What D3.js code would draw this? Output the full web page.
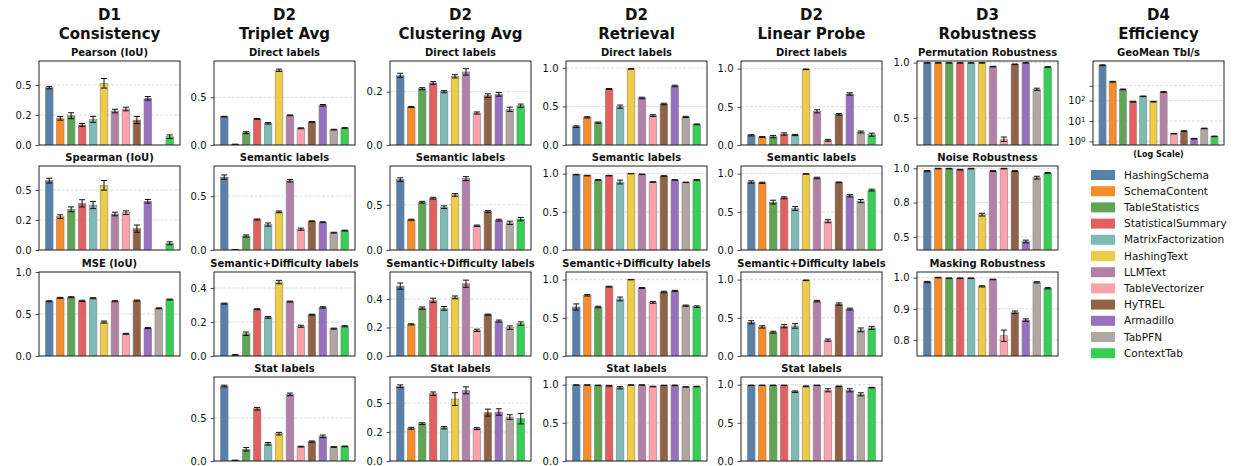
<!DOCTYPE html>
<html>
<head>
<meta charset="utf-8">
<script src="https://cdn.jsdelivr.net/npm/d3@7"></script>
<style>
  body { margin: 0; background: #fff; }
  svg { display: block; }
  text { font-family: "DejaVu Sans", sans-serif; fill: #111; }
</style>
</head>
<body>
<svg id="chart" width="1242" height="466"></svg>
<script>
// ---- Methods and colours ----
const methods = ["HashingSchema", "SchemaContent", "TableStatistics", "StatisticalSummary",
  "MatrixFactorization", "HashingText", "LLMText", "TableVectorizer", "HyTREL",
  "Armadillo", "TabPFN", "ContextTab"];
const methodColors = ["#4e79a7", "#f7861f", "#55a04b", "#e15759", "#76b7b2", "#eec93c",
  "#b07aa1", "#ff9da7", "#8c5a3c", "#9467bd", "#aca29e", "#2bcb4a"];

// ---- D1 Consistency ----
const pearsonIoU     = [0.478, 0.222, 0.244, 0.167, 0.214, 0.514, 0.283, 0.300, 0.208, 0.389, null, 0.069];
const pearsonIoUErr  = [0.010, 0.015, 0.025, 0.012, 0.025, 0.040, 0.015, 0.015, 0.030, 0.015, null, 0.015];
const spearmanIoU    = [0.578, 0.278, 0.339, 0.389, 0.375, 0.539, 0.300, 0.311, 0.178, 0.406, null, 0.056];
const spearmanIoUErr = [0.020, 0.015, 0.020, 0.030, 0.030, 0.040, 0.015, 0.015, 0.030, 0.015, null, 0.012];
const mseIoU         = [0.652, 0.692, 0.700, 0.656, 0.688, 0.404, 0.652, 0.264, 0.660, 0.332, 0.568, 0.672];
const mseIoUErr      = [0.006, 0.006, 0.006, 0.008, 0.006, 0.012, 0.006, 0.006, 0.006, 0.006, 0.006, 0.006];

// ---- D2 Triplet Avg ----
const tripletDirect      = [0.297, 0.007, 0.129, 0.273, 0.227, 0.783, 0.311, 0.175, 0.241, 0.416, 0.161, 0.178];
const tripletDirectErr   = [0.004, 0.002, 0.010, 0.004, 0.008, 0.012, 0.004, 0.005, 0.004, 0.008, 0.004, 0.004];
const tripletSemantic    = [0.677, 0.003, 0.130, 0.283, 0.236, 0.354, 0.643, 0.193, 0.267, 0.258, 0.161, 0.180];
const tripletSemanticErr = [0.020, 0.002, 0.010, 0.005, 0.015, 0.008, 0.012, 0.010, 0.004, 0.004, 0.004, 0.004];
const tripletSemDiff     = [0.308, 0.006, 0.131, 0.275, 0.227, 0.435, 0.320, 0.175, 0.243, 0.286, 0.161, 0.175];
const tripletSemDiffErr  = [0.003, 0.002, 0.010, 0.003, 0.005, 0.010, 0.003, 0.006, 0.003, 0.004, 0.003, 0.003];
const tripletStat        = [0.872, 0.008, 0.136, 0.608, 0.200, 0.318, 0.775, 0.167, 0.225, 0.287, 0.163, 0.170];
const tripletStatErr     = [0.010, 0.002, 0.020, 0.015, 0.015, 0.015, 0.015, 0.005, 0.008, 0.015, 0.004, 0.004];

// ---- D2 Clustering Avg ----
const clusterDirect      = [0.261, 0.1425, 0.211, 0.2325, 0.200, 0.2575, 0.274, 0.120, 0.185, 0.190, 0.134, 0.1475];
const clusterDirectErr   = [0.008, 0.002, 0.004, 0.005, 0.004, 0.006, 0.012, 0.004, 0.007, 0.007, 0.008, 0.006];
const clusterSemantic    = [0.779, 0.335, 0.529, 0.574, 0.474, 0.610, 0.790, 0.268, 0.426, 0.331, 0.301, 0.342];
const clusterSemanticErr = [0.020, 0.006, 0.010, 0.010, 0.015, 0.015, 0.022, 0.008, 0.010, 0.010, 0.018, 0.018];
const clusterSemDiff     = [0.490, 0.222, 0.336, 0.390, 0.334, 0.411, 0.507, 0.180, 0.290, 0.245, 0.199, 0.227];
const clusterSemDiffErr  = [0.022, 0.004, 0.008, 0.015, 0.013, 0.010, 0.025, 0.008, 0.004, 0.007, 0.012, 0.012];
const clusterStat        = [0.644, 0.282, 0.322, 0.580, 0.287, 0.534, 0.609, 0.279, 0.417, 0.422, 0.379, 0.365];
const clusterStatErr     = [0.012, 0.008, 0.008, 0.015, 0.010, 0.055, 0.030, 0.008, 0.030, 0.028, 0.020, 0.045];

// ---- D2 Retrieval ----
const retrievalDirect      = [0.238, 0.359, 0.290, 0.727, 0.498, 0.987, 0.610, 0.381, 0.532, 0.766, 0.364, 0.268];
const retrievalDirectErr   = [0.010, 0.008, 0.008, 0.006, 0.020, 0.003, 0.010, 0.012, 0.010, 0.010, 0.008, 0.005];
const retrievalSemantic    = [0.987, 0.974, 0.917, 0.974, 0.890, 1.000, 0.991, 0.890, 0.969, 0.917, 0.886, 0.917];
const retrievalSemanticErr = [0.003, 0.004, 0.004, 0.004, 0.025, 0.002, 0.003, 0.004, 0.004, 0.003, 0.003, 0.004];
const retrievalSemDiff     = [0.642, 0.795, 0.642, 0.908, 0.747, 1.000, 0.891, 0.703, 0.838, 0.852, 0.659, 0.646];
const retrievalSemDiffErr  = [0.040, 0.010, 0.010, 0.006, 0.025, 0.003, 0.006, 0.012, 0.010, 0.008, 0.008, 0.010];
const retrievalStat        = [0.995, 0.995, 0.990, 0.985, 0.960, 0.995, 0.995, 0.975, 0.990, 0.990, 0.970, 0.975];
const retrievalStatErr     = [0.002, 0.002, 0.003, 0.005, 0.015, 0.003, 0.002, 0.004, 0.002, 0.004, 0.003, 0.004];

// ---- D2 Linear Probe ----
const probeDirect      = [0.127, 0.105, 0.109, 0.144, 0.131, 0.991, 0.441, 0.061, 0.402, 0.668, 0.170, 0.135];
const probeDirectErr   = [0.008, 0.005, 0.015, 0.015, 0.008, 0.004, 0.020, 0.012, 0.010, 0.015, 0.013, 0.020];
const probeSemantic    = [0.890, 0.880, 0.627, 0.684, 0.544, 0.996, 0.943, 0.377, 0.886, 0.711, 0.640, 0.785];
const probeSemanticErr = [0.015, 0.008, 0.025, 0.012, 0.025, 0.003, 0.010, 0.020, 0.005, 0.015, 0.020, 0.012];
const probeSemDiff     = [0.442, 0.381, 0.312, 0.390, 0.394, 0.991, 0.719, 0.208, 0.680, 0.615, 0.342, 0.368];
const probeSemDiffErr  = [0.020, 0.015, 0.012, 0.020, 0.030, 0.004, 0.010, 0.015, 0.015, 0.012, 0.025, 0.020];
const probeStat        = [0.991, 0.991, 0.991, 0.991, 0.908, 0.978, 0.991, 0.926, 0.978, 0.926, 0.873, 0.961];
const probeStatErr     = [0.002, 0.002, 0.003, 0.002, 0.010, 0.006, 0.002, 0.020, 0.004, 0.020, 0.020, 0.004];

// ---- D3 Robustness ----
const permutationRob    = [0.998, 0.998, 0.998, 0.998, 0.998, 0.998, 0.964, 0.307, 0.985, 0.998, 0.759, 0.961];
const permutationRobErr = [0.002, 0.002, 0.002, 0.002, 0.002, 0.002, 0.003, 0.020, 0.003, 0.002, 0.010, 0.003];
const noiseRob          = [0.980, 0.998, 0.998, 0.990, 0.998, 0.662, 0.980, 0.998, 0.980, 0.466, 0.932, 0.966];
const noiseRobErr       = [0.004, 0.002, 0.002, 0.003, 0.002, 0.010, 0.003, 0.002, 0.003, 0.010, 0.010, 0.003];
const maskingRob        = [0.986, 1.000, 0.998, 0.998, 0.998, 0.972, 0.994, 0.814, 0.889, 0.864, 0.985, 0.966];
const maskingRobErr     = [0.002, 0.001, 0.001, 0.001, 0.001, 0.002, 0.001, 0.018, 0.004, 0.004, 0.002, 0.002];

// ---- D4 Efficiency (tables per second, geometric mean) ----
const geoMeanTblPerSec    = [5500, 850, 357, 89, 163, 89, 265, 2.37, 3.19, 1.35, 4.3, 1.75];
const geoMeanTblPerSecErr = [300, 40, 15, 4, 6, 4, 12, 0.08, 0.12, 0.05, 0.15, 0.06];

// ---- Axis tick sets ----
const ticksHalf      = [0, 0.5];
const ticksHalfText  = ["0.0", "0.5"];
const ticksQuarter   = [0, 0.25, 0.5];
const ticksQuarterText = ["0.0", "0.2", "0.5"];
const ticksUnit      = [0, 0.5, 1.0];
const ticksUnitText  = ["0.0", "0.5", "1.0"];
const ticksFifth     = [0, 0.2, 0.4];
const ticksFifthText = ["0.0", "0.2", "0.4"];
const ticksHigh      = [0.5, 1.0];
const ticksHighText  = ["0.5", "1.0"];
const ticksNoise     = [0.5, 0.75, 1.0];
const ticksNoiseText = ["0.5", "0.8", "1.0"];
const ticksMask      = [0.8, 0.9, 1.0];
const ticksMaskText  = ["0.8", "0.9", "1.0"];
const ticksLog       = [1, 10, 100, 540];
const ticksLogExp    = ["0", "1", "2", null];

const columnHeaders = [["D1", "Consistency"], ["D2", "Triplet Avg"], ["D2", "Clustering Avg"],
  ["D2", "Retrieval"], ["D2", "Linear Probe"], ["D3", "Robustness"], ["D4", "Efficiency"]];

// ---- Layout ----
const colLeft  = [39, 214, 390, 566, 741, 917, 1093];
const colWidth = [141, 141, 141, 141, 141, 141, 131];
const rowTop   = [61, 166, 272, 377];
const panelH   = 84;

const panels = [
  { col: 0, row: 0, title: "Pearson (IoU)",  v: pearsonIoU,  e: pearsonIoUErr,  dom: [0, 0.70], t: ticksQuarter, tt: ticksQuarterText },
  { col: 0, row: 1, title: "Spearman (IoU)", v: spearmanIoU, e: spearmanIoUErr, dom: [0, 0.70], t: ticksQuarter, tt: ticksQuarterText },
  { col: 0, row: 2, title: "MSE (IoU)",      v: mseIoU,      e: mseIoUErr,      dom: [0, 1.00], t: ticksUnit, tt: ticksUnitText },

  { col: 1, row: 0, title: "Direct labels",   v: tripletDirect,   e: tripletDirectErr,   dom: [0, 0.88],  t: ticksHalf, tt: ticksHalfText },
  { col: 1, row: 1, title: "Semantic labels", v: tripletSemantic, e: tripletSemanticErr, dom: [0, 0.78],  t: ticksHalf, tt: ticksHalfText },
  { col: 1, row: 2, title: "Semantic+Difficulty labels", v: tripletSemDiff, e: tripletSemDiffErr, dom: [0, 0.494], t: ticksFifth, tt: ticksFifthText },
  { col: 1, row: 3, title: "Stat labels",     v: tripletStat,     e: tripletStatErr,     dom: [0, 0.977], t: ticksHalf, tt: ticksHalfText },

  { col: 2, row: 0, title: "Direct labels",   v: clusterDirect,   e: clusterDirectErr,   dom: [0, 0.315], t: [0, 0.2], tt: ["0.0", "0.2"] },
  { col: 2, row: 1, title: "Semantic labels", v: clusterSemantic, e: clusterSemanticErr, dom: [0, 0.93],  t: ticksHalf, tt: ticksHalfText },
  { col: 2, row: 2, title: "Semantic+Difficulty labels", v: clusterSemDiff, e: clusterSemDiffErr, dom: [0, 0.589], t: ticksFifth, tt: ticksFifthText },
  { col: 2, row: 3, title: "Stat labels",     v: clusterStat,     e: clusterStatErr,     dom: [0, 0.724], t: ticksQuarter, tt: ticksQuarterText },

  { col: 3, row: 0, title: "Direct labels",   v: retrievalDirect,   e: retrievalDirectErr,   dom: [0, 1.09], t: ticksUnit, tt: ticksUnitText },
  { col: 3, row: 1, title: "Semantic labels", v: retrievalSemantic, e: retrievalSemanticErr, dom: [0, 1.10], t: ticksUnit, tt: ticksUnitText },
  { col: 3, row: 2, title: "Semantic+Difficulty labels", v: retrievalSemDiff, e: retrievalSemDiffErr, dom: [0, 1.10], t: ticksUnit, tt: ticksUnitText },
  { col: 3, row: 3, title: "Stat labels",     v: retrievalStat,     e: retrievalStatErr,     dom: [0, 1.10], t: ticksUnit, tt: ticksUnitText },

  { col: 4, row: 0, title: "Direct labels",   v: probeDirect,   e: probeDirectErr,   dom: [0, 1.10], t: ticksUnit, tt: ticksUnitText },
  { col: 4, row: 1, title: "Semantic labels", v: probeSemantic, e: probeSemanticErr, dom: [0, 1.10], t: ticksUnit, tt: ticksUnitText },
  { col: 4, row: 2, title: "Semantic+Difficulty labels", v: probeSemDiff, e: probeSemDiffErr, dom: [0, 1.10], t: ticksUnit, tt: ticksUnitText },
  { col: 4, row: 3, title: "Stat labels",     v: probeStat,     e: probeStatErr,     dom: [0, 1.10], t: ticksUnit, tt: ticksUnitText },

  { col: 5, row: 0, title: "Permutation Robustness", v: permutationRob, e: permutationRobErr, dom: [0.255, 1.015], t: ticksHigh,  tt: ticksHighText },
  { col: 5, row: 1, title: "Noise Robustness",       v: noiseRob,       e: noiseRobErr,       dom: [0.404, 1.017], t: ticksNoise, tt: ticksNoiseText },
  { col: 5, row: 2, title: "Masking Robustness",     v: maskingRob,     e: maskingRobErr,     dom: [0.749, 1.018], t: ticksMask,  tt: ticksMaskText },

  { col: 6, row: 0, title: "GeoMean Tbl/s", v: geoMeanTblPerSec, e: geoMeanTblPerSecErr, dom: [0.66, 8900], log: true, t: ticksLog, tt: ticksLogExp }
];

const svg = d3.select("#chart");
svg.append("rect").attr("width", 1242).attr("height", 466).attr("fill", "#fff");
const defs = svg.append("defs");

// Column headers
columnHeaders.forEach((h, c) => {
  const cx = colLeft[c] + colWidth[c] / 2;
  const g = svg.append("g").attr("font-weight", "bold").attr("font-size", 15).attr("text-anchor", "middle");
  g.append("text").attr("x", cx).attr("y", 19.5).text(h[0]);
  g.append("text").attr("x", cx).attr("y", 38.5).text(h[1]);
});

panels.forEach((p, pi) => {
  const x0 = colLeft[p.col], w = colWidth[p.col];
  const y0 = rowTop[p.row], h = panelH;
  const g = svg.append("g").attr("transform", `translate(${x0},${y0})`);

  const x = d3.scaleLinear().domain([-0.935, methods.length - 1 + 0.935]).range([0, w]);
  const y = (p.log ? d3.scaleLog() : d3.scaleLinear()).domain(p.dom).range([h, 0]);
  const bw = x(0.35) - x(-0.35);

  // dashed horizontal grid
  g.append("g").selectAll("line").data(p.t).join("line")
    .attr("x1", 0).attr("x2", w)
    .attr("y1", d => y(d)).attr("y2", d => y(d))
    .attr("stroke", "#b0b0b0").attr("stroke-opacity", 0.55)
    .attr("stroke-width", 0.8).attr("stroke-dasharray", "3,1.5");

  const clipId = "clip" + pi;
  defs.append("clipPath").attr("id", clipId)
    .append("rect").attr("x", 0).attr("y", 0).attr("width", w).attr("height", h);

  const plot = g.append("g").attr("clip-path", `url(#${clipId})`);
  const rows = p.v.map((v, i) => ({ i, v, e: p.e[i] })).filter(d => d.v !== null);

  plot.selectAll("rect.bar").data(rows).join("rect").attr("class", "bar")
    .attr("x", d => x(d.i) - bw / 2).attr("width", bw)
    .attr("y", d => y(d.v)).attr("height", d => h - y(d.v))
    .attr("fill", d => methodColors[d.i]).attr("fill-opacity", 0.95)
    .attr("stroke", "#8a8a8a").attr("stroke-width", 0.6);

  // error bars
  const eb = plot.selectAll("g.err").data(rows.filter(d => d.e)).join("g").attr("class", "err")
    .attr("stroke", "#111").attr("stroke-width", 1);
  eb.append("line").attr("x1", d => x(d.i)).attr("x2", d => x(d.i))
    .attr("y1", d => y(d.v - d.e)).attr("y2", d => y(d.v + d.e));
  eb.append("line").attr("x1", d => x(d.i) - 3).attr("x2", d => x(d.i) + 3)
    .attr("y1", d => y(d.v - d.e)).attr("y2", d => y(d.v - d.e));
  eb.append("line").attr("x1", d => x(d.i) - 3).attr("x2", d => x(d.i) + 3)
    .attr("y1", d => y(d.v + d.e)).attr("y2", d => y(d.v + d.e));

  // y axis
  const ax = g.append("g").call(d3.axisLeft(y).tickValues(p.t).tickSize(3.5).tickPadding(4)
    .tickFormat((d, k) => p.log ? "" : p.tt[k]));
  ax.select(".domain").remove();
  ax.selectAll("line").attr("stroke", "#222").attr("stroke-width", 0.8);
  ax.selectAll("text").attr("font-size", 10).attr("fill", "#222").style("font-family", "DejaVu Sans");
  if (p.log) {
    ax.selectAll(".tick text").each(function (d, k) {
      if (p.tt[k] === null) return;
      const t = d3.select(this);
      t.text(null);
      t.append("tspan").text("10");
      t.append("tspan").attr("dy", "-0.45em").attr("font-size", 7).text(p.tt[k]);
    });
    g.append("text").attr("x", w / 2).attr("y", h + 12).attr("text-anchor", "middle")
      .attr("font-size", 8).attr("font-weight", "bold").text("(Log Scale)");
  }

  // frame
  g.append("rect").attr("width", w).attr("height", h)
    .attr("fill", "none").attr("stroke", "#222").attr("stroke-width", 1);

  // subplot title
  g.append("text").attr("x", w / 2).attr("y", -5.5).attr("text-anchor", "middle")
    .attr("font-size", 10).attr("font-weight", "bold").text(p.title);
});

// Legend
const legend = svg.append("g").attr("transform", "translate(1091,175)");
methods.forEach((m, i) => {
  const row = legend.append("g").attr("transform", `translate(0,${i * 16.2})`);
  row.append("rect").attr("x", 0).attr("y", -5).attr("width", 24).attr("height", 10)
    .attr("fill", methodColors[i]).attr("fill-opacity", 0.95);
  row.append("text").attr("x", 33).attr("y", 0).attr("dy", "0.35em")
    .attr("font-size", 10.5).attr("fill", "#222").text(m);
});
</script>
</body>
</html>
